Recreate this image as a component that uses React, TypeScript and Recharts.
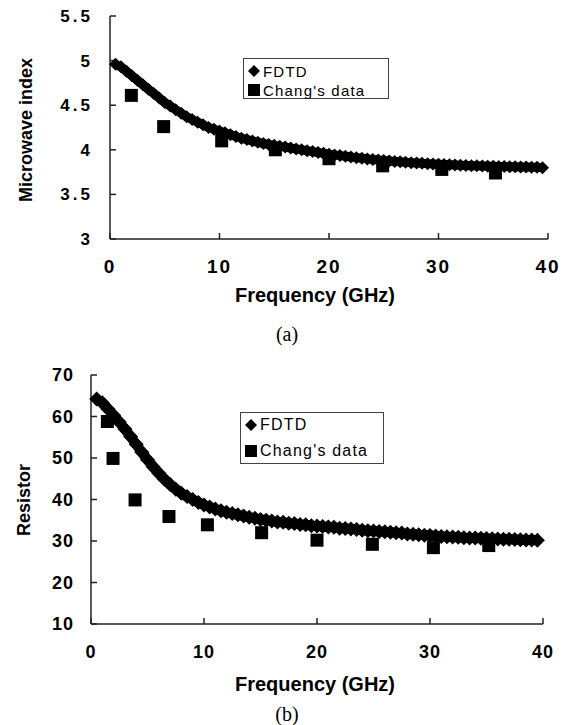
import React from 'react';
import { ScatterChart, Scatter, XAxis, YAxis } from 'recharts';

// FDTD samples (GHz), shared by both panels
const freqGHz = [
  0.5, 1, 1.5, 2, 2.5, 3, 3.5, 4, 4.5, 5, 5.5, 6, 6.5, 7, 7.5, 8, 8.5, 9, 9.5, 10,
  10.5, 11, 11.5, 12, 12.5, 13, 13.5, 14, 14.5, 15, 15.5, 16, 16.5, 17, 17.5, 18, 18.5, 19, 19.5, 20,
  20.5, 21, 21.5, 22, 22.5, 23, 23.5, 24, 24.5, 25, 25.5, 26, 26.5, 27, 27.5, 28, 28.5, 29, 29.5, 30,
  30.5, 31, 31.5, 32, 32.5, 33, 33.5, 34, 34.5, 35, 35.5, 36, 36.5, 37, 37.5, 38, 38.5, 39, 39.5,
];

const fdtdIndex = [
  4.96, 4.93, 4.88, 4.83, 4.78, 4.73, 4.68, 4.63, 4.58, 4.53, 4.49, 4.45, 4.41, 4.37, 4.34, 4.31, 4.28, 4.25, 4.23, 4.21,
  4.19, 4.17, 4.15, 4.13, 4.115, 4.1, 4.085, 4.07, 4.06, 4.05, 4.04, 4.03, 4.02, 4.01, 4.0, 3.99, 3.98, 3.97, 3.96, 3.95,
  3.943, 3.935, 3.928, 3.92, 3.912, 3.905, 3.898, 3.892, 3.886, 3.88, 3.875, 3.87, 3.865, 3.86, 3.856, 3.852, 3.848, 3.845, 3.841, 3.838,
  3.835, 3.832, 3.83, 3.827, 3.825, 3.822, 3.82, 3.818, 3.816, 3.815, 3.813, 3.812, 3.81, 3.809, 3.807, 3.806, 3.804, 3.803, 3.8,
];

const fdtdResistor = [
  64.2, 63.3, 61.8, 60.3, 58.7, 57.0, 55.2, 53.3, 51.4, 49.6, 47.9, 46.3, 44.9, 43.6, 42.5, 41.5, 40.7, 40.0, 39.3, 38.7,
  38.2, 37.7, 37.3, 36.9, 36.6, 36.3, 36.0, 35.7, 35.5, 35.2, 35.0, 34.8, 34.6, 34.5, 34.3, 34.2, 34.0, 33.9, 33.7, 33.6,
  33.5, 33.4, 33.3, 33.1, 33.0, 32.9, 32.8, 32.6, 32.5, 32.4, 32.3, 32.2, 32.1, 32.0, 31.9, 31.7, 31.6, 31.5, 31.4, 31.3,
  31.2, 31.1, 31.0, 30.95, 30.9, 30.8, 30.75, 30.7, 30.65, 30.6, 30.55, 30.5, 30.45, 30.4, 30.35, 30.3, 30.27, 30.23, 30.2,
];

const changFreqA = [1.95, 4.9, 10.2, 15.1, 20, 24.9, 30.3, 35.2];
const changIndex = [4.61, 4.26, 4.1, 4.0, 3.9, 3.82, 3.78, 3.74];

const changFreqB = [1.45, 1.95, 3.9, 6.9, 10.3, 15.1, 20, 24.9, 30.3, 35.2];
const changResistor = [58.8, 49.9, 39.9, 35.9, 33.9, 32, 30.2, 29.2, 28.4, 28.9];

const freqTicks = [0, 10, 20, 30, 40];
const indexTicks = [3, 3.5, 4, 4.5, 5, 5.5];
const resistorTicks = [10, 20, 30, 40, 50, 60, 70];

const toPoints = (xs: number[], ys: number[]) => xs.map((x, i) => ({ x, y: ys[i] }));

const SANS = '"Liberation Sans", Arial, sans-serif';

const diamond = (r: number) => (p: any) => (
  <polygon
    points={`${p.cx},${p.cy - r} ${p.cx + r},${p.cy} ${p.cx},${p.cy + r} ${p.cx - r},${p.cy}`}
    fill="#000"
  />
);

const square = (s: number) => (p: any) => (
  <rect x={p.cx - s / 2} y={p.cy - s / 2} width={s} height={s} fill="#000" />
);

function LegendBox({ left, top, width, height, fontSize, rowGap }: any) {
  return (
    <div
      style={{
        position: 'absolute', left, top, width, height, boxSizing: 'border-box',
        border: '1px solid #444', background: '#fff', fontFamily: SANS, fontSize,
        letterSpacing: 1.2, color: '#000',
      }}
    >
      <div style={{ position: 'absolute', left: 3, top: 4, display: 'flex', alignItems: 'center', height: 16 }}>
        <svg width={14} height={14}><polygon points="7,1 13,7 7,13 1,7" fill="#000" /></svg>
        <span style={{ marginLeft: 2 }}>FDTD</span>
      </div>
      <div style={{ position: 'absolute', left: 3, top: 4 + rowGap, display: 'flex', alignItems: 'center', height: 16 }}>
        <svg width={14} height={14}><rect x={1} y={1} width={12} height={12} fill="#000" /></svg>
        <span style={{ marginLeft: 2 }}>Chang's data</span>
      </div>
    </div>
  );
}

export default function App() {
  const axisStroke = { stroke: '#222', strokeWidth: 1.5 };

  return (
    <div style={{ position: 'absolute', left: 0, top: 0, width: 574, height: 725, background: '#fff' }}>
      {/* panel (a) */}
      <div style={{ position: 'absolute', left: 0, top: 0 }}>
        <ScatterChart width={574} height={300} margin={{ top: 16, right: 26, bottom: 0, left: 0 }}>
          <XAxis
            type="number" dataKey="x" domain={[0, 40]} ticks={freqTicks}
            height={61} tickSize={-6} tickMargin={27}
            axisLine={axisStroke} tickLine={axisStroke}
            tick={{ fontSize: 19, fontWeight: 'bold', fill: '#000', fontFamily: SANS, letterSpacing: 2 }}
          />
          <YAxis
            type="number" dataKey="y" domain={[3, 5.5]} ticks={indexTicks}
            width={110} tickSize={-6} tickMargin={23}
            axisLine={axisStroke} tickLine={axisStroke}
            tick={{ fontSize: 17, fontWeight: 'bold', fill: '#000', fontFamily: SANS, letterSpacing: 3 }}
          />
          <Scatter
            data={toPoints(freqGHz, fdtdIndex)} shape={diamond(6.5)}
            line={{ stroke: '#000', strokeWidth: 9 }} isAnimationActive={false}
          />
          <Scatter data={toPoints(changFreqA, changIndex)} shape={square(13)} isAnimationActive={false} />
        </ScatterChart>
      </div>
      <LegendBox left={243} top={58} width={146} height={41} fontSize={15} rowGap={19} />
      <div
        style={{
          position: 'absolute', left: 26, top: 130, transform: 'translate(-50%, -50%) rotate(-90deg)',
          whiteSpace: 'nowrap', fontFamily: SANS, fontWeight: 'bold', fontSize: 18,
        }}
      >
        Microwave index
      </div>
      <div
        style={{
          position: 'absolute', left: 315, top: 295, transform: 'translate(-50%, -50%)',
          whiteSpace: 'nowrap', fontFamily: SANS, fontWeight: 'bold', fontSize: 20,
        }}
      >
        Frequency (GHz)
      </div>
      <div
        style={{
          position: 'absolute', left: 287, top: 334, transform: 'translate(-50%, -50%)',
          fontFamily: '"Liberation Serif", serif', fontSize: 20,
        }}
      >
        (a)
      </div>

      {/* panel (b) */}
      <div style={{ position: 'absolute', left: 0, top: 340 }}>
        <ScatterChart width={574} height={340} margin={{ top: 35, right: 31, bottom: 0, left: 0 }}>
          <XAxis
            type="number" dataKey="x" domain={[0, 40]} ticks={freqTicks}
            height={56} tickSize={-6} tickMargin={27}
            axisLine={axisStroke} tickLine={axisStroke}
            tick={{ fontSize: 18, fontWeight: 'bold', fill: '#000', fontFamily: SANS, letterSpacing: 1 }}
          />
          <YAxis
            type="number" dataKey="y" domain={[10, 70]} ticks={resistorTicks}
            width={91} tickSize={-6} tickMargin={23}
            axisLine={axisStroke} tickLine={axisStroke}
            tick={{ fontSize: 18, fontWeight: 'bold', fill: '#000', fontFamily: SANS, letterSpacing: 1 }}
          />
          <Scatter
            data={toPoints(freqGHz, fdtdResistor)} shape={diamond(7.5)}
            line={{ stroke: '#000', strokeWidth: 10 }} isAnimationActive={false}
          />
          <Scatter data={toPoints(changFreqB, changResistor)} shape={square(13)} isAnimationActive={false} />
        </ScatterChart>
      </div>
      <LegendBox left={240} top={412} width={144} height={52} fontSize={16} rowGap={26} />
      <div
        style={{
          position: 'absolute', left: 24, top: 500, transform: 'translate(-50%, -50%) rotate(-90deg)',
          whiteSpace: 'nowrap', fontFamily: SANS, fontWeight: 'bold', fontSize: 18,
        }}
      >
        Resistor
      </div>
      <div
        style={{
          position: 'absolute', left: 315, top: 684, transform: 'translate(-50%, -50%)',
          whiteSpace: 'nowrap', fontFamily: SANS, fontWeight: 'bold', fontSize: 20,
        }}
      >
        Frequency (GHz)
      </div>
      <div
        style={{
          position: 'absolute', left: 287, top: 714, transform: 'translate(-50%, -50%)',
          fontFamily: '"Liberation Serif", serif', fontSize: 20,
        }}
      >
        (b)
      </div>
    </div>
  );
}
